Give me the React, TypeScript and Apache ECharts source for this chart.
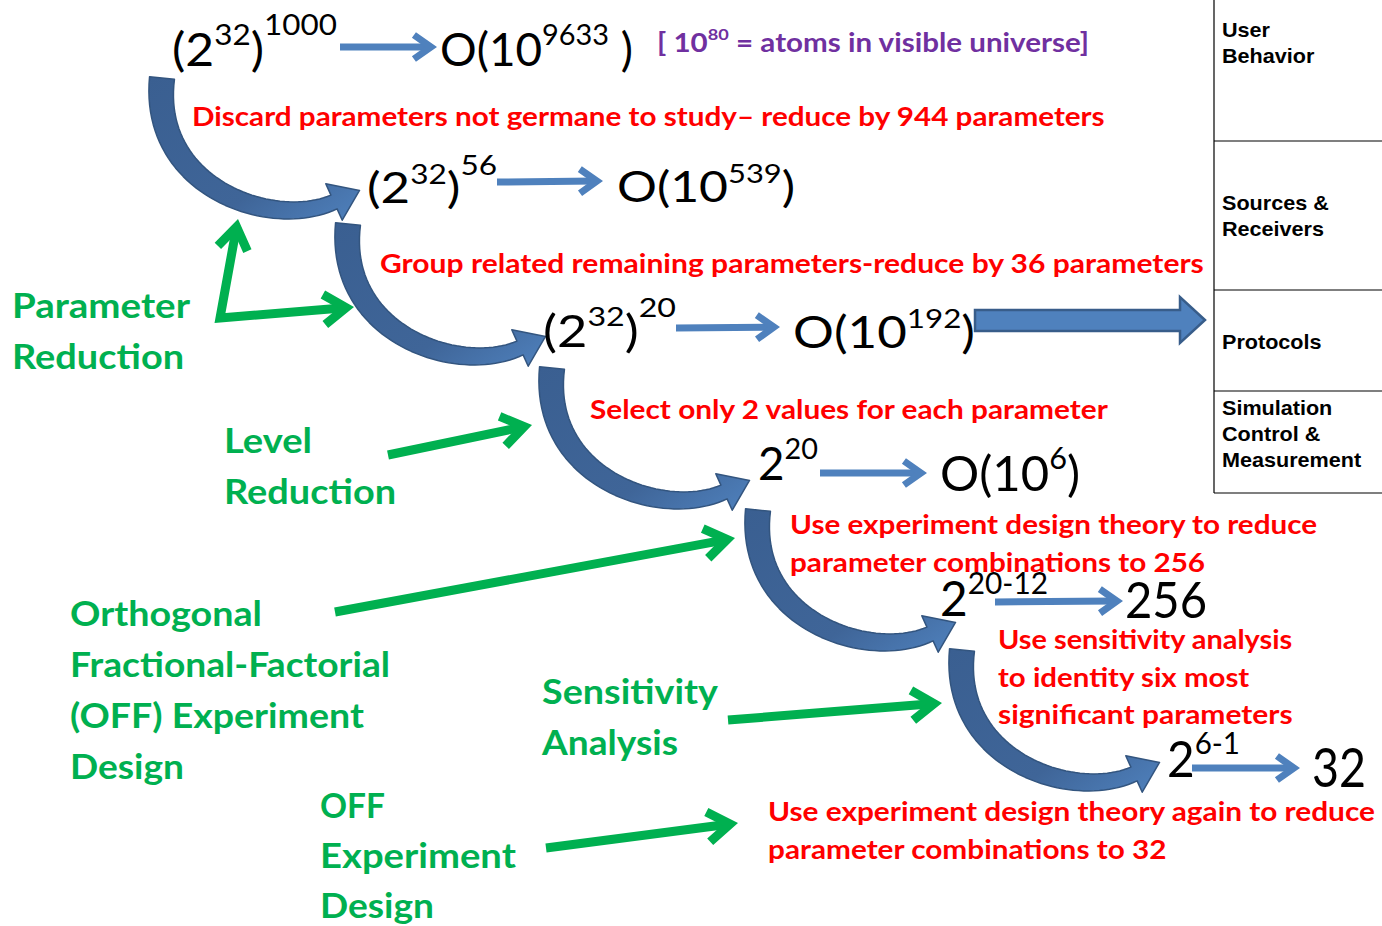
import React, { useEffect, useRef } from "react";
import * as echarts from "echarts";

// ---------------- content ----------------
const tableRows: string[][] = [
  ["User", "Behavior"],
  ["Sources &", "Receivers"],
  ["Protocols"],
  ["Simulation", "Control &", "Measurement"],
];

const redNotes: string[] = [
  "Discard parameters not germane to study– reduce by 944 parameters",
  "Group related remaining parameters-reduce by 36 parameters",
  "Select only 2 values for each parameter",
  "Use experiment design theory to reduce",
  "parameter combinations to 256",
  "Use sensitivity analysis",
  "to identity six most",
  "significant parameters",
  "Use experiment design theory again to reduce",
  "parameter combinations to 32",
];

const greenLabels: string[][] = [
  ["Parameter", "Reduction"],
  ["Level", "Reduction"],
  ["Orthogonal", "Fractional-Factorial", "(OFF) Experiment", "Design"],
  ["Sensitivity", "Analysis"],
  ["OFF", "Experiment", "Design"],
];

type Seg = [string, number];
const stageExprs: Seg[][] = [
  [["(2", 0], ["32", 1], [")", 0], ["1000", 2]],
  [["O(10", 0], ["9633", 1], [" )", 0]],
  [["(2", 0], ["32", 1], [")", 0], ["56", 2]],
  [["O(10", 0], ["539", 1], [")", 0]],
  [["(2", 0], ["32", 1], [")", 0], ["20", 2]],
  [["O(10", 0], ["192", 1], [")", 0]],
  [["2", 0], ["20", 1]],
  [["O(10", 0], ["6", 1], [")", 0]],
  [["2", 0], ["20-12", 1]],
  [["256", 0]],
  [["2", 0], ["6-1", 1]],
  [["32", 0]],
];
const universeNote: Seg[] = [["[ 10", 0], ["80", 1], [" = atoms in visible universe]", 0]];

// ---------------- layout ----------------
const FONT = "Lato";
const TFONT = "Liberation Sans";
const RED = "#FF0000";
const GREEN = "#00B050";
const PURPLE = "#7030A0";
const BLUE = "#4F81BD";

// [left, centerY, width]
const redPos: number[][] = [
  [192, 116, 914], [380, 263, 825], [590, 409, 520], [790, 524, 528], [790, 562, 416],
  [998, 638, 295], [998, 676, 252], [998, 714, 295], [768, 811, 608], [768, 849, 399],
];
// per group: left, first line centerY, line widths
const greenPos: { x: number; y: number; w: number[]; lh: number }[] = [
  { x: 12, y: 305, w: [178, 172], lh: 51 },
  { x: 224, y: 440, w: [88, 172], lh: 51 },
  { x: 70, y: 613, w: [192, 320, 294, 114], lh: 51 },
  { x: 542, y: 691, w: [176, 136], lh: 51 },
  { x: 320, y: 805, w: [65, 196, 114], lh: 50 },
];
// [x0, x1, centerY, baseSize]
const exprPos: number[][] = [
  [172, 337, 48, 46], [440, 633, 48, 46], [367, 497, 187, 42], [617, 795, 186, 42],
  [543, 676, 330, 44], [793, 975, 331, 44], [758, 818, 462, 46], [940, 1080, 472, 48],
  [940, 1048, 597, 48], [1125, 1207, 598, 51], [1167, 1240, 758, 50], [1312, 1366, 766, 54],
];
const thinArrows: number[][] = [
  [340, 47, 437, 47], [497, 182, 603, 181], [676, 328, 780, 327],
  [820, 473, 927, 473], [995, 602, 1123, 601], [1192, 768, 1300, 768],
];
const greenArrows: number[][] = [
  [388, 455, 532, 425], [335, 612, 735, 538], [728, 720, 942, 703], [546, 848, 738, 823],
];
const elbow = [220, 318];
const elbowTips: number[][] = [[238, 219], [354, 307]];
const curveTails: number[][] = [[162, 78], [348, 224], [552, 368], [758, 510], [962, 650]];
const tableX = 1214;
const tableLines = [141, 290, 391, 493];
const tableTextY = [30, 203, 342, 408];

// ---------------- helpers ----------------
let ctx2d: CanvasRenderingContext2D | null = null;
function tw(text: string, font: string) {
  if (!ctx2d) ctx2d = document.createElement("canvas").getContext("2d");
  ctx2d!.font = font;
  return ctx2d!.measureText(text).width;
}
function txt(text: string, x: number, cy: number, font: string, fill: string, sx = 1) {
  return {
    type: "text", x, y: cy, scaleX: sx, silent: true,
    style: { text, x: 0, y: 0, font, fill, align: "left", verticalAlign: "middle", textAlign: "left", textVerticalAlign: "middle" },
  };
}
function fit(text: string, x: number, cy: number, font: string, fill: string, width: number) {
  return txt(text, x, cy, font, fill, width / tw(text, font));
}
function expr(segs: Seg[], x0: number, x1: number, cy: number, base: number, weight: string, fill: string) {
  const fonts = segs.map(([, lv]) => `${weight} ${lv === 0 ? base : Math.round(base * 0.62)}px ${FONT}`);
  const ws = segs.map(([t], i) => tw(t, fonts[i]));
  const total = ws.reduce((a, b) => a + b, 0);
  const sc = (x1 - x0) / total;
  let x = x0;
  const out: any[] = [];
  segs.forEach(([t, lv], i) => {
    const raise = lv === 0 ? 0 : lv === 1 ? base * 0.32 : base * 0.54;
    out.push(txt(t, x, cy - raise, fonts[i], fill, sc));
    x += ws[i] * sc;
  });
  return out;
}
function chevron(tx: number, ty: number, ux: number, uy: number, back: number, half: number, lw: number, color: string, inset: number) {
  const nx = -uy, ny = ux;
  const vx = tx - ux * inset, vy = ty - uy * inset;
  return {
    type: "polyline", silent: true,
    shape: { points: [[vx - ux * back + nx * half, vy - uy * back + ny * half], [vx, vy], [vx - ux * back - nx * half, vy - uy * back - ny * half]] },
    style: { stroke: color, lineWidth: lw, fill: null, lineJoin: "miter", lineCap: "butt" },
  };
}
function straightArrow(x0: number, y0: number, x1: number, y1: number, lw: number, back: number, half: number, color: string) {
  const len = Math.hypot(x1 - x0, y1 - y0);
  const ux = (x1 - x0) / len, uy = (y1 - y0) / len;
  const inset = (lw / 2) / Math.sin(Math.atan2(half, back));
  return [
    { type: "line", silent: true, shape: { x1: x0, y1: y0, x2: x1 - ux * (inset + 2), y2: y1 - uy * (inset + 2) }, style: { stroke: color, lineWidth: lw, lineCap: "butt" } },
    chevron(x1, y1, ux, uy, back, half, lw, color, inset),
  ];
}
const CP = [[0, 0], [-12, 110], [110, 152], [172, 124]];
function curvedArrow(tx: number, ty: number) {
  const L: number[][] = [], R: number[][] = [];
  const N = 48;
  let ux = 0, uy = 0, nx = 0, ny = 0, bx = 0, by = 0;
  for (let i = 0; i <= N; i++) {
    const t = i / N, u = 1 - t;
    const x = u * u * u * CP[0][0] + 3 * u * u * t * CP[1][0] + 3 * u * t * t * CP[2][0] + t * t * t * CP[3][0];
    const y = u * u * u * CP[0][1] + 3 * u * u * t * CP[1][1] + 3 * u * t * t * CP[2][1] + t * t * t * CP[3][1];
    const dx = 3 * u * u * (CP[1][0] - CP[0][0]) + 6 * u * t * (CP[2][0] - CP[1][0]) + 3 * t * t * (CP[3][0] - CP[2][0]);
    const dy = 3 * u * u * (CP[1][1] - CP[0][1]) + 6 * u * t * (CP[2][1] - CP[1][1]) + 3 * t * t * (CP[3][1] - CP[2][1]);
    const len = Math.hypot(dx, dy);
    ux = dx / len; uy = dy / len; nx = -uy; ny = ux;
    const w = 12.5 - 5 * t;
    bx = tx + x; by = ty + y;
    L.push([bx + nx * w, by + ny * w]);
    R.push([bx - nx * w, by - ny * w]);
  }
  const HW = 20, HL = 28;
  const head = [[bx + nx * HW, by + ny * HW], [bx + ux * HL, by + uy * HL], [bx - nx * HW, by - ny * HW]];
  return {
    type: "polygon", silent: true,
    shape: { points: [...L, ...head, ...R.reverse()] },
    style: {
      fill: new echarts.graphic.LinearGradient(0, 0, 1, 1, [
        { offset: 0, color: "#3A5F91" },
        { offset: 0.65, color: "#3F6598" },
        { offset: 1, color: "#4F81BD" },
      ]),
      stroke: "#33557F", lineWidth: 1.5, lineJoin: "round",
    },
  };
}

function buildElements() {
  const els: any[] = [];
  els.push({ type: "rect", silent: true, shape: { x: 0, y: 0, width: 1382, height: 926 }, style: { fill: "#FFFFFF" } });
  curveTails.forEach(([x, y]) => els.push(curvedArrow(x, y)));
  els.push({ type: "line", silent: true, shape: { x1: tableX, y1: 0, x2: tableX, y2: tableLines[3] }, style: { stroke: "#000", lineWidth: 1.2 } });
  tableLines.forEach((y) => els.push({ type: "line", silent: true, shape: { x1: tableX, y1: y, x2: 1382, y2: y }, style: { stroke: "#000", lineWidth: 1.2 } }));
  tableRows.forEach((rows, i) => rows.forEach((t, j) => els.push(txt(t, 1222, tableTextY[i] + j * 26, `bold 20px ${TFONT}`, "#000", 1.08))));
  els.push({
    type: "polygon", silent: true,
    shape: { points: [[975, 310], [1180, 310], [1180, 297], [1205, 320], [1180, 343], [1180, 331], [975, 331]] },
    style: { fill: BLUE, stroke: "#385D8A", lineWidth: 2.5, lineJoin: "miter" },
  });
  thinArrows.forEach(([a, b, c, d]) => els.push(...straightArrow(a, b, c, d, 7, 17, 12, BLUE)));
  greenArrows.forEach(([a, b, c, d]) => els.push(...straightArrow(a, b, c, d, 9, 22, 15, GREEN)));
  els.push({
    type: "polyline", silent: true,
    shape: { points: [elbowTips[0], elbow, elbowTips[1]].map((p, i) => {
      if (i === 1) return p;
      const len = Math.hypot(p[0] - elbow[0], p[1] - elbow[1]);
      const ux = (p[0] - elbow[0]) / len, uy = (p[1] - elbow[1]) / len;
      return [p[0] - ux * 12, p[1] - uy * 12];
    }) },
    style: { stroke: GREEN, lineWidth: 9, fill: null, lineJoin: "miter", lineCap: "butt" },
  });
  elbowTips.forEach((p) => {
    const len = Math.hypot(p[0] - elbow[0], p[1] - elbow[1]);
    const ux = (p[0] - elbow[0]) / len, uy = (p[1] - elbow[1]) / len;
    const inset = 4.5 / Math.sin(Math.atan2(15, 22));
    els.push(chevron(p[0], p[1], ux, uy, 22, 15, 9, GREEN, inset));
  });
  stageExprs.forEach((segs, i) => {
    const [x0, x1, cy, base] = exprPos[i];
    els.push(...expr(segs, x0, x1, cy, base, "normal", "#000"));
  });
  els.push(...expr(universeNote, 657, 1090, 42, 26, "bold", PURPLE));
  redNotes.forEach((t, i) => {
    const [x, y, w] = redPos[i];
    els.push(fit(t, x, y, `bold 27px ${FONT}`, RED, w));
  });
  greenLabels.forEach((lines, g) => {
    const p = greenPos[g];
    lines.forEach((t, j) => els.push(fit(t, p.x, p.y + j * p.lh, `bold 34px ${FONT}`, GREEN, p.w[j])));
  });
  return els;
}

export default function App() {
  const ref = useRef<HTMLDivElement>(null);
  useEffect(() => {
    if (!ref.current) return;
    const chart = echarts.init(ref.current, null, { renderer: "svg", width: 1382, height: 926 });
    chart.setOption({ animation: false, graphic: { elements: buildElements() } });
    return () => chart.dispose();
  }, []);
  return (
    <div
      ref={ref}
      style={{ position: "fixed", left: 0, top: 0, width: 1382, height: 926, background: "#fff" }}
    />
  );
}
